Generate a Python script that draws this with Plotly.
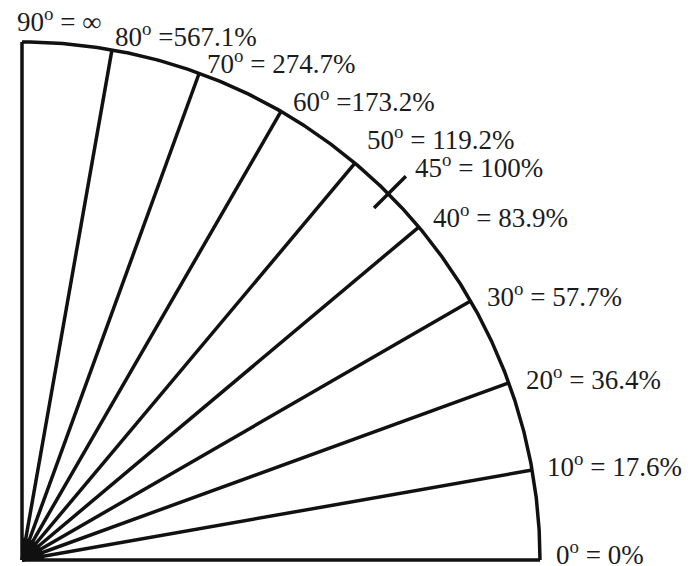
import numpy as np
import plotly.graph_objects as go

# Data: angle of each spoke and its slope expressed as a percentage
angles = [0, 10, 20, 30, 40, 50, 60, 70, 80, 90]
label_angles = [90, 80, 70, 60, 50, 45, 40, 30, 20, 10, 0]
label_texts = ["90<sup>o</sup> = ∞", "80<sup>o</sup> =567.1%", "70<sup>o</sup> = 274.7%",
               "60<sup>o</sup> =173.2%", "50<sup>o</sup> = 119.2%", "45<sup>o</sup> = 100%",
               "40<sup>o</sup> = 83.9%", "30<sup>o</sup> = 57.7%", "20<sup>o</sup> = 36.4%",
               "10<sup>o</sup> = 17.6%", "0<sup>o</sup> = 0%"]
tick_angle = 45

# Styling: pixel offsets of each label from its point on the arc
label_dx = [-7, 1, 6, 10, 10, 25, 12, 14, 15, 13, 14]
label_dy = [22, 15, 11, 11, 25, 28, 11, 6, 5, 5, 7]

W, H = 694, 566
cx, cy, R = 22, 560, 518  # pixel centre and radius (layout)

ink = "#111111"
fig = go.Figure()

# dark hub where the spokes converge
hub_r = 0.042
hth = np.radians(np.linspace(0, 90, 40))
fig.add_trace(go.Scatter(x=np.r_[0, hub_r * np.cos(hth), 0],
                         y=np.r_[0, hub_r * np.sin(hth), 0],
                         mode="lines", fill="toself", fillcolor=ink,
                         line=dict(color=ink, width=1), hoverinfo="skip"))

# spokes
xs, ys = [], []
for a in angles:
    t = np.radians(a)
    xs += [0, np.cos(t), None]
    ys += [0, np.sin(t), None]
fig.add_trace(go.Scatter(x=xs, y=ys, mode="lines",
                         line=dict(color=ink, width=3.5), hoverinfo="skip"))

# arc
th = np.radians(np.linspace(0, 90, 400))
fig.add_trace(go.Scatter(x=np.cos(th), y=np.sin(th), mode="lines",
                         line=dict(color=ink, width=3.5), hoverinfo="skip"))

# 45 degree tick crossing the arc
t45 = np.radians(tick_angle)
fig.add_trace(go.Scatter(x=[0.961 * np.cos(t45), 1.048 * np.cos(t45)],
                         y=[0.961 * np.sin(t45), 1.048 * np.sin(t45)],
                         mode="lines", line=dict(color=ink, width=3.5),
                         hoverinfo="skip"))

for a, txt, dx, dy in zip(label_angles, label_texts, label_dx, label_dy):
    t = np.radians(a)
    fig.add_annotation(x=np.cos(t), y=np.sin(t), text=txt, showarrow=False,
                       xanchor="left", yanchor="middle", xshift=dx, yshift=dy,
                       font=dict(family="Liberation Serif", size=27, color="#1c1c1c"))

fig.update_xaxes(range=[-cx / R, (W - cx) / R], visible=False, fixedrange=True)
fig.update_yaxes(range=[-(H - cy) / R, cy / R], visible=False, fixedrange=True)
fig.update_layout(width=W, height=H, margin=dict(l=0, r=0, t=0, b=0),
                  paper_bgcolor="white", plot_bgcolor="white", showlegend=False)

fig.write_html("out.html", config={"displayModeBar": False},
               post_script="document.body.style.margin='0';")
